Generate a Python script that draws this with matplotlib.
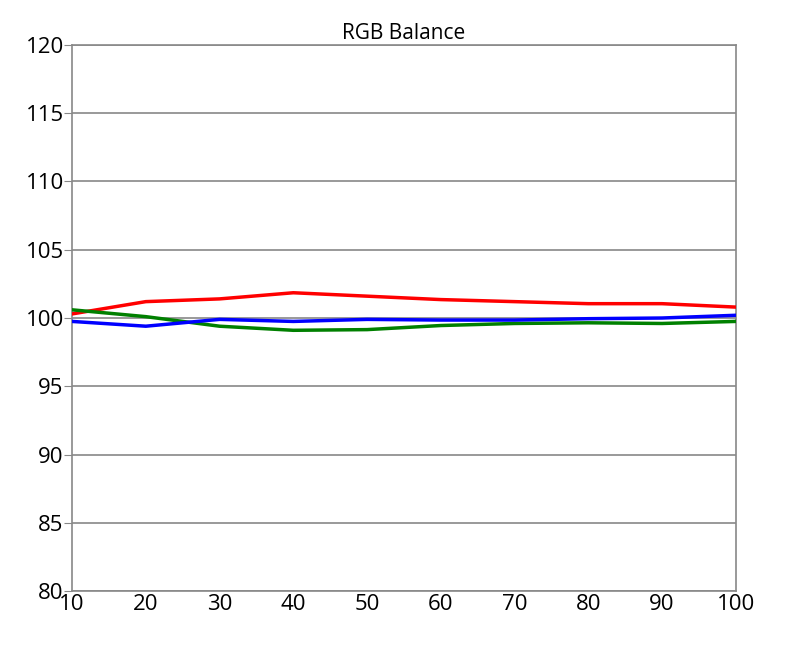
import matplotlib
matplotlib.use("Agg")
import matplotlib.pyplot as plt

x = [10, 20, 30, 40, 50, 60, 70, 80, 90, 100]
red = [100.3, 101.2, 101.4, 101.85, 101.6, 101.35, 101.2, 101.05, 101.05, 100.8]
green = [100.6, 100.1, 99.4, 99.1, 99.15, 99.45, 99.6, 99.65, 99.6, 99.75]
blue = [99.75, 99.4, 99.9, 99.75, 99.9, 99.85, 99.85, 99.95, 100.0, 100.2]
yticks = [80, 85, 90, 95, 100, 105, 110, 115, 120]

plt.rcParams['font.family'] = ['Open Sans', 'DejaVu Sans']
fig = plt.figure(figsize=(7.92, 6.51), dpi=100)
ax = fig.add_axes([0.091, 0.092, 0.838, 0.839])
for yv in yticks:
    ax.axhline(yv, color='#888888', lw=1.2, zorder=1)
ax.plot(x, red, color='#ff0000', lw=2.5, zorder=3)
ax.plot(x, green, color='#008000', lw=2.5, zorder=3)
ax.plot(x, blue, color='#0000ff', lw=2.5, zorder=3)
ax.set_xlim(10, 100)
ax.set_ylim(80, 120)
ax.set_xticks(x)
ax.set_yticks(yticks)
ax.tick_params(axis='y', direction='out', length=6, color='#888888', labelsize=16, pad=0)
ax.tick_params(axis='x', length=0, labelsize=16, pad=2)
for s in ax.spines.values():
    s.set_color('#888888')
    s.set_linewidth(1.2)
ax.set_title('RGB Balance', fontsize=15, pad=4)
fig.savefig('out.png', dpi=100)
